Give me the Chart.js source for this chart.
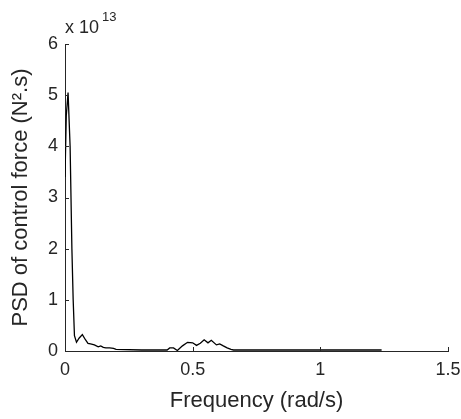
<!DOCTYPE html>
<html lang="en">
<head>
  <meta charset="UTF-8">
  <title>PSD of control force</title>
  <script src="https://cdn.jsdelivr.net/npm/chart.js"></script>
  <style>
    html, body {
      margin: 0;
      padding: 0;
      background: #fff;
    }
    .chart-container {
      width: 461px;
      height: 419px;
    }
  </style>
</head>
<body>
  <div class="chart-container">
    <canvas id="psdChart"></canvas>
  </div>

<script>
  // frequency (rad/s) and PSD (x 1e13 N^2.s)
  const freq = [0, 0.005, 0.012, 0.02, 0.027, 0.032, 0.037, 0.045, 0.055, 0.068, 0.08, 0.09, 0.1, 0.115, 0.13, 0.14, 0.15, 0.16, 0.175, 0.19, 0.2,
                0.3, 0.4, 0.41, 0.425, 0.44, 0.46, 0.48, 0.5, 0.515, 0.53, 0.545, 0.56, 0.573, 0.593, 0.606, 0.62, 0.635, 0.65, 0.66,
                0.8, 1.0, 1.24];
  const psd = [3.4, 4.6, 5.05, 4.0, 2.0, 1.0, 0.3, 0.17, 0.25, 0.32, 0.22, 0.15, 0.14, 0.12, 0.08, 0.1, 0.07, 0.06, 0.06, 0.05, 0.03,
               0.02, 0.02, 0.06, 0.06, 0.01, 0.1, 0.17, 0.16, 0.11, 0.15, 0.22, 0.16, 0.21, 0.12, 0.14, 0.1, 0.06, 0.03, 0.02,
               0.02, 0.02, 0.02];
  const xTicks = [0, 0.5, 1, 1.5];
  const yTicks = [0, 1, 2, 3, 4, 5, 6];

  const ink = '#262626';
  const fontFamily = "'Liberation Sans', Arial, sans-serif";

  // MATLAB-style inward tick marks and the "x 10^13" exponent label
  const axisExtras = {
    id: 'axisExtras',
    afterDraw(chart) {
      const { ctx, chartArea, scales } = chart;
      ctx.save();
      ctx.strokeStyle = ink;
      ctx.lineWidth = 1;
      ctx.beginPath();
      xTicks.forEach(v => {
        const x = Math.round(scales.x.getPixelForValue(v)) + 0.5;
        ctx.moveTo(x, chartArea.bottom);
        ctx.lineTo(x, chartArea.bottom - 4);
      });
      yTicks.forEach(v => {
        const y = Math.round(scales.y.getPixelForValue(v)) + 0.5;
        ctx.moveTo(chartArea.left, y);
        ctx.lineTo(chartArea.left + 4, y);
      });
      ctx.stroke();

      ctx.fillStyle = ink;
      ctx.textBaseline = 'alphabetic';
      ctx.font = `18px ${fontFamily}`;
      ctx.fillText('x 10', chartArea.left, chartArea.top - 11);
      ctx.font = `13px ${fontFamily}`;
      ctx.fillText('13', chartArea.left + 37, chartArea.top - 23);
      ctx.restore();
    }
  };

  const ctx = document.getElementById('psdChart').getContext('2d');

  new Chart(ctx, {
    type: 'line',
    data: {
      datasets: [{
        data: freq.map((f, i) => ({ x: f, y: psd[i] })),
        borderColor: '#000',
        borderWidth: 1.3,
        pointRadius: 0,
        tension: 0,
        fill: false
      }]
    },
    options: {
      responsive: true,
      maintainAspectRatio: false,
      animation: false,
      devicePixelRatio: 1,
      layout: {
        padding: { left: 0, right: 13, top: 44, bottom: 0 }
      },
      plugins: {
        legend: { display: false },
        tooltip: { enabled: false }
      },
      scales: {
        x: {
          type: 'linear',
          min: 0,
          max: 1.5,
          afterBuildTicks: s => { s.ticks = xTicks.map(v => ({ value: v })); },
          afterFit: s => { s.height = 68; s.paddingLeft = 0; s.paddingRight = 0; },
          grid: { display: false, drawTicks: false },
          border: { display: true, color: ink, width: 1 },
          ticks: {
            color: ink,
            font: { family: fontFamily, size: 18 },
            padding: 8,
            maxRotation: 0,
            callback: v => String(v)
          },
          title: {
            display: true,
            text: 'Frequency (rad/s)',
            color: ink,
            font: { family: fontFamily, size: 22 },
            padding: { bottom: 5 }
          }
        },
        y: {
          type: 'linear',
          min: 0,
          max: 6,
          afterBuildTicks: s => { s.ticks = yTicks.map(v => ({ value: v })); },
          afterFit: s => { s.width = 65; s.paddingTop = 0; s.paddingBottom = 0; },
          grid: { display: false, drawTicks: false },
          border: { display: true, color: ink, width: 1 },
          ticks: {
            color: ink,
            font: { family: fontFamily, size: 18 },
            padding: 7
          },
          title: {
            display: true,
            text: 'PSD of control force (N\u00b2.s)',
            color: ink,
            font: { family: fontFamily, size: 22 },
            padding: { top: 8 }
          }
        }
      }
    },
    plugins: [axisExtras]
  });
</script>

</body>
</html>
